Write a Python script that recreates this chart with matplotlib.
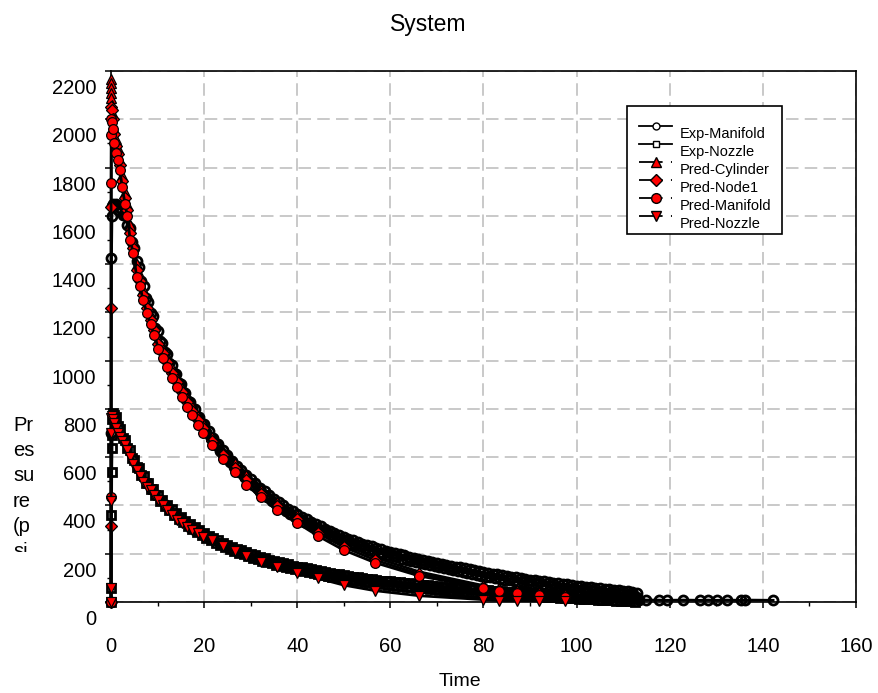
import numpy as np
import matplotlib
matplotlib.use("Agg")
import matplotlib.pyplot as plt
from matplotlib.lines import Line2D
from matplotlib.patches import Rectangle
from matplotlib.legend_handler import HandlerLine2D
from matplotlib.transforms import ScaledTranslation, Bbox, TransformedBbox

plt.rcParams['font.family'] = ['Liberation Sans', 'DejaVu Sans']
plt.rcParams['lines.scale_dashes'] = False

# ---------------- data ----------------
title = "System"
x_label = "Time"
y_label_lines = ["Pr", "es", "su", "re", "(p", "si"]
series_names = ["Exp-Manifold", "Exp-Nozzle", "Pred-Cylinder", "Pred-Node1",
                "Pred-Manifold", "Pred-Nozzle"]

x_ticks = [0, 20, 40, 60, 80, 100, 120, 140, 160]
y_ticks = [0, 200, 400, 600, 800, 1000, 1200, 1400, 1600, 1800, 2000, 2200]

# sampling times of the measured (noisy) records
t_exp_dense = [1, 1.5, 2, 2.5, 3, 3.5, 4, 4.5, 5, 5.5,
               6, 6.5, 7, 7.5, 8, 8.5, 9, 9.5, 10, 10.5,
               11, 11.5, 12, 12.5, 13, 13.5, 14, 14.5, 15, 15.5,
               16, 16.5, 17, 17.5, 18, 18.5, 19, 19.5, 20, 20.5,
               21, 21.5, 22, 22.5, 23, 23.5, 24, 24.5, 25, 25.5,
               26, 26.5, 27, 27.5, 28, 28.5, 29, 29.5, 30, 30.5,
               31, 31.5, 32, 32.5, 33, 33.5, 34, 34.5, 35, 35.5,
               36, 36.5, 37, 37.5, 38, 38.5, 39, 39.5, 40, 40.5,
               41, 41.5, 42, 42.5, 43, 43.5, 44, 44.5, 45, 45.5,
               46, 46.5, 47, 47.5, 48, 48.5, 49, 49.5, 50, 50.5,
               51, 51.5, 52, 52.5, 53, 53.5, 54, 54.5, 55, 55.5,
               56, 56.5, 57, 57.5, 58, 58.5, 59, 59.5, 60, 60.5,
               61, 61.5, 62, 62.5, 63, 63.5, 64, 64.5, 65, 65.5,
               66, 66.5, 67, 67.5, 68, 68.5, 69, 69.5, 70, 70.5,
               71, 71.5, 72, 72.5, 73, 73.5, 74, 74.5, 75, 75.5,
               76, 76.5, 77, 77.5, 78, 78.5, 79, 79.5, 80, 80.5,
               81, 81.5, 82, 82.5, 83, 83.5, 84, 84.5, 85, 85.5,
               86, 86.5, 87, 87.5, 88, 88.5, 89, 89.5, 90, 90.5,
               91, 91.5, 92, 92.5, 93, 93.5, 94, 94.5, 95, 95.5,
               96, 96.5, 97, 97.5, 98, 98.5, 99, 99.5, 100, 100.5,
               101, 101.5, 102, 102.5, 103, 103.5, 104, 104.5, 105, 105.5,
               106, 106.5, 107, 107.5, 108, 108.5, 109, 109.5, 110, 110.5,
               111, 111.5, 112, 112.5, 113]

t_exp_manifold = ([0, 0.05, 0.1, 0.2, 0.3, 0.5, 0.75] + t_exp_dense +
                  [113.5, 115.0, 117.6, 119.4, 122.9, 126.5, 128.3, 130.1, 132.2, 135.4,
                   136.2, 142.2])
p_exp_manifold = [0, 700, 1425, 1600, 1640, 1650, 1645,
                  1648, 1625, 1633, 1604, 1608, 1562, 1548, 1492, 1468, 1412,
                  1388, 1332, 1308, 1259, 1243, 1197, 1183, 1137, 1123, 1082,
                  1073, 1034, 1028, 989, 983, 947, 943, 907, 903, 868,
                  866, 832, 830, 798, 798, 766, 766, 735, 736, 706,
                  708, 678, 680, 652, 655, 627, 630, 603, 608, 581,
                  586, 560, 565, 539, 545, 520, 526, 501, 508, 484,
                  491, 467, 474, 450, 458, 435, 443, 420, 428, 405,
                  414, 391, 400, 378, 387, 365, 375, 353, 363, 342,
                  353, 332, 343, 322, 333, 312, 323, 302, 313, 293,
                  304, 284, 295, 275, 286, 266, 278, 258, 270, 251,
                  263, 244, 256, 237, 249, 230, 242, 223, 236, 217,
                  230, 211, 224, 205, 218, 200, 213, 195, 208, 190,
                  203, 185, 198, 180, 193, 175, 188, 170, 184, 166,
                  179, 161, 175, 157, 171, 153, 167, 149, 163, 145,
                  159, 141, 155, 137, 151, 133, 147, 129, 143, 125,
                  139, 121, 135, 117, 131, 113, 127, 109, 123, 105,
                  120, 102, 117, 99, 114, 96, 111, 93, 108, 90,
                  105, 87, 102, 84, 99, 81, 96, 78, 93, 75,
                  90, 73, 88, 70, 85, 68, 83, 65, 80, 63,
                  78, 60, 75, 58, 73, 55, 70, 53, 68, 51,
                  66, 49, 64, 46, 61, 44, 59, 42, 57, 40,
                  55, 38, 53, 36, 51, 34, 49, 32, 47, 30,
                  44, 27, 41, 24, 38,
                  10, 8, 8, 7, 8, 7, 8, 7, 8, 7, 8, 7]

t_exp_nozzle = [0, 0.05, 0.1, 0.15, 0.2, 0.25, 0.3, 0.5, 0.75] + t_exp_dense
p_exp_nozzle = [0, 58, 360, 540, 637, 692, 760, 785, 775,
                767, 728, 717, 680, 672, 636, 629, 595, 590, 558,
                555, 525, 523, 495, 495, 468, 469, 443, 445, 420,
                423, 399, 403, 380, 384, 362, 367, 345, 351, 330,
                336, 315, 322, 302, 309, 289, 297, 278, 286, 267,
                275, 256, 265, 246, 255, 237, 246, 228, 237, 219,
                229, 211, 221, 204, 214, 197, 207, 190, 200, 183,
                194, 177, 188, 171, 182, 165, 176, 160, 171, 155,
                166, 150, 161, 145, 156, 140, 151, 135, 147, 131,
                143, 127, 139, 123, 135, 119, 131, 115, 127, 112,
                124, 108, 120, 105, 117, 102, 114, 99, 111, 96,
                108, 93, 105, 90, 102, 87, 99, 84, 97, 82,
                94, 79, 92, 77, 89, 74, 87, 72, 85, 70,
                83, 68, 81, 66, 79, 64, 77, 62, 75, 60,
                73, 58, 71, 56, 69, 54, 67, 52, 65, 50,
                63, 49, 62, 47, 60, 45, 59, 44, 57, 42,
                55, 40, 54, 39, 52, 37, 51, 36, 50, 35,
                48, 34, 47, 33, 46, 31, 45, 30, 43, 29,
                42, 28, 41, 27, 40, 26, 39, 25, 38, 24,
                37, 23, 36, 22, 35, 21, 34, 20, 33, 19,
                32, 18, 31, 17, 30, 16, 29, 15, 28, 14,
                27, 13, 26, 12, 25, 11, 24, 10, 23, 9,
                22, 8, 21, 7, 20, 6, 19, 5, 18, 4,
                17, 3, 16, 2, 15]

# predictions
t_pred = [0, 0.01, 0.02, 0.05, 0.1, 0.2, 0.4, 0.7, 1.0, 1.4, 1.9, 2.4, 3.0, 3.5, 4.1, 4.8,
          5.5, 6.2, 6.9, 7.7, 8.5, 9.3, 10.2, 11.1, 12.0, 13.0, 14.1, 15.2, 16.3, 17.4, 18.6,
          19.8, 21.6, 24.0, 26.6, 29.1, 32.2, 35.7, 39.9, 44.5, 50.0, 56.7, 66.2, 80.0, 83.4,
          87.1, 92.0, 97.5]
p_pred_cylinder = [2165, 2150, 2130, 2110, 2090, 2060, 2020, 1960, 1920, 1880, 1830, 1770,
                   1700, 1650, 1560, 1490, 1400, 1355, 1295, 1240, 1190, 1145, 1090, 1050, 1012,
                   968, 928, 886, 846, 810, 772, 741, 685, 623, 575, 526, 464, 415, 360, 300, 240,
                   185, 125, 68, 56, 47, 36, 27]
p_pred_node1 = [0, 315, 1218, 1638, 2050, 2040, 2000, 1940, 1890, 1855, 1810, 1745, 1675,
                1625, 1530, 1465, 1375, 1330, 1272, 1218, 1170, 1125, 1070, 1030, 993, 950, 910,
                868, 828, 792, 754, 720, 668, 607, 557, 505, 449, 398, 344, 286, 228, 174, 116,
                63, 51, 43, 32, 24]
p_pred_manifold = [0, 436, 1735, 1935, 2000, 1990, 1960, 1900, 1860, 1830, 1790, 1720, 1650,
                   1600, 1500, 1445, 1348, 1310, 1250, 1197, 1150, 1105, 1050, 1010, 975, 930,
                   892, 850, 809, 775, 735, 701, 650, 592, 540, 485, 434, 381, 329, 273, 215, 163,
                   108, 58, 46, 39, 29, 21]
p_pred_nozzle = [0, 57, 420, 700, 762, 770, 760, 740, 720, 700, 685, 668, 650, 628, 602, 572,
                 545, 520, 497, 478, 462, 443, 423, 402, 381, 360, 340, 326, 312, 298, 285, 270,
                 257, 232, 210, 190, 164, 146, 121, 98, 70, 47, 26, 10, 6, 6, 5, 4]

# ---------------- figure ----------------
W, H = 879, 693
fig = plt.figure(figsize=(W / 100, H / 100), dpi=100)
ax = fig.add_axes([111 / W, 1 - 602 / H, (856 - 111) / W, (602 - 71) / H])

exp_style = dict(color='black', lw=2.0, mec='black', mfc='none', mew=2.0, clip_on=False, zorder=3)
pred_style = dict(color='black', lw=2.0, mec='black', mfc='#ff0000', mew=0.9, clip_on=False, zorder=4)

ax.plot(t_exp_manifold, p_exp_manifold, marker='o', ms=6.5, **exp_style)
ax.plot(t_exp_nozzle, p_exp_nozzle, marker='s', ms=5.5, **exp_style)
ax.plot(t_pred, p_pred_cylinder, marker='^', ms=7.5, **pred_style)
ax.plot(t_pred, p_pred_node1, marker='D', ms=6.5, **pred_style)
ax.plot(t_pred, p_pred_manifold, marker='o', ms=7, **pred_style)
ax.plot(t_pred, p_pred_nozzle, marker='v', ms=7.5, **pred_style)

ax.set_xlim(x_ticks[0], x_ticks[-1])
ax.set_ylim(y_ticks[0], y_ticks[-1])
ax.set_xticks(x_ticks)
ax.set_xticks(np.arange(x_ticks[0], x_ticks[-1] + 1, 10), minor=True)
ax.set_yticks(y_ticks)
ax.set_yticks(np.arange(y_ticks[0], y_ticks[-1] + 1, 100), minor=True)
ax.set_xticklabels([str(v) for v in x_ticks])
ax.set_yticklabels([str(v) for v in y_ticks])

ax.tick_params(axis='both', which='major', direction='out', length=4.5, width=1.1,
               colors='black', labelsize=14.5)
ax.tick_params(axis='both', which='minor', direction='out', length=3, width=1.0)
ax.tick_params(axis='x', which='major', pad=21)
ax.tick_params(axis='y', which='major', pad=6)
ax.grid(True, which='major', color='#c0c0c0', lw=1.2, linestyle=(0, (9, 4.5)))
ax.set_axisbelow(True)
for sp in ax.spines.values():
    sp.set_linewidth(1.2)
    sp.set_color('black')

# Excel-style offset of the value-axis labels (drawn lower than the gridlines)
for tk in ax.yaxis.get_major_ticks():
    tk.label1.set_transform(tk.label1.get_transform() +
                            ScaledTranslation(0, -0.155, fig.dpi_scale_trans))

# titles
fig.text(428 / W, 1 - 31.5 / H, title, ha='center', va='baseline', fontsize=16.5)
fig.text(460 / W, 1 - 686.5 / H, x_label, ha='center', va='baseline', fontsize=14)
clip = TransformedBbox(Bbox([[0, 1 - 552 / H], [1, 1]]), fig.transFigure)
for i, s in enumerate(y_label_lines):
    tx = fig.text(13 / W, 1 - (431 + 25.2 * i) / H, s, ha='left', va='baseline', fontsize=14.5)
    tx.set_clip_on(True)
    tx.set_clip_box(clip)


# legend
class ShiftedLine(HandlerLine2D):
    def __init__(self, dy=5.0, **kw):
        super().__init__(**kw)
        self.dy = dy

    def create_artists(self, legend, orig_handle, xdescent, ydescent, width, height,
                       fontsize, trans):
        arts = super().create_artists(legend, orig_handle, xdescent, ydescent, width,
                                      height, fontsize, trans)
        for a in arts:
            a.set_ydata(np.asarray(a.get_ydata(), float) + self.dy)
        return arts


pred_dash = (0, (17, 6, 1, 30))
handles = [
    Line2D([], [], marker='o', ms=5, color='black', lw=1.3, mec='black', mfc='white'),
    Line2D([], [], marker='s', ms=4.5, color='black', lw=1.3, mec='black', mfc='white'),
    Line2D([], [], marker='^', ms=7.5, color='black', lw=1.3, ls=pred_dash, mec='black', mfc='#ff0000'),
    Line2D([], [], marker='D', ms=6.5, color='black', lw=1.3, ls=pred_dash, mec='black', mfc='#ff0000'),
    Line2D([], [], marker='o', ms=7, color='black', lw=1.3, ls=pred_dash, mec='black', mfc='#ff0000'),
    Line2D([], [], marker='v', ms=7.5, color='black', lw=1.3, ls=pred_dash, mec='black', mfc='#ff0000'),
]
frame = Rectangle((627 / W, 1 - 234 / H), (782 - 627) / W, (234 - 106) / H,
                  transform=fig.transFigure, facecolor='white', edgecolor='black',
                  lw=1.2, zorder=5)
fig.add_artist(frame)
leg = fig.legend(handles, series_names, loc='upper left',
                 bbox_to_anchor=(639 / W, 1 - 127 / H), bbox_transform=fig.transFigure,
                 borderaxespad=0, borderpad=0, fontsize=10.5, frameon=False,
                 handlelength=2.27, handletextpad=0.55, labelspacing=0.27, numpoints=1,
                 handler_map={Line2D: ShiftedLine(5.0)})
leg.set_zorder(6)

fig.savefig("out.png", dpi=100)
